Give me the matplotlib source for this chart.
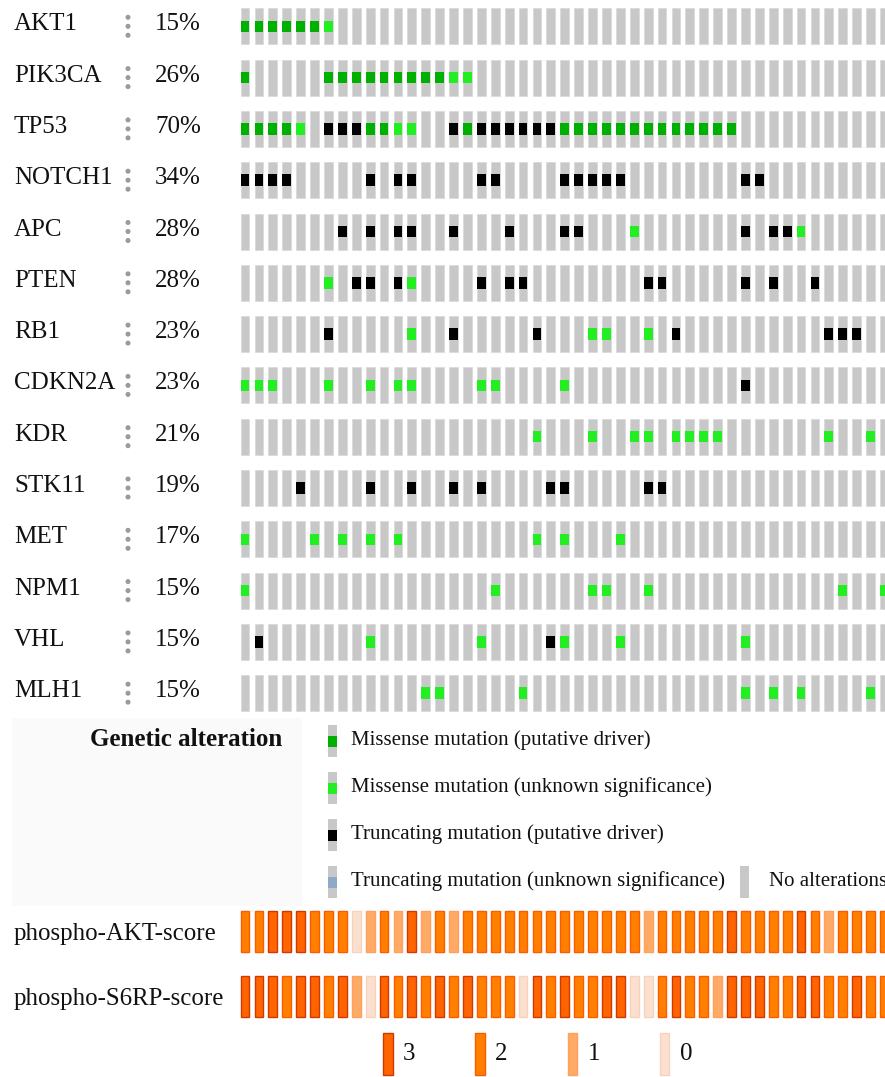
import matplotlib
matplotlib.use('Agg')
import matplotlib.pyplot as plt
from matplotlib.patches import Rectangle, Ellipse

plt.rcParams['font.family'] = ['Liberation Serif', 'DejaVu Serif']

# ---------------- data ----------------
genes = ['AKT1', 'PIK3CA', 'TP53', 'NOTCH1', 'APC', 'PTEN', 'RB1', 'CDKN2A',
         'KDR', 'STK11', 'MET', 'NPM1', 'VHL', 'MLH1']
pct_labels = ['15%', '26%', '70%', '34%', '28%', '28%', '23%', '23%',
              '21%', '19%', '17%', '15%', '15%', '15%']
n_samples = 47

missense_driver = {
    'AKT1': [0, 1, 2, 3, 4, 5],
    'PIK3CA': [0, 6, 7, 8, 9, 10, 11, 12, 13, 14],
    'TP53': [0, 1, 2, 3, 9, 10, 16, 23, 24, 25, 26, 27, 28, 29, 30, 31, 32, 33, 34, 35],
}
missense_unknown = {
    'AKT1': [6],
    'PIK3CA': [15, 16],
    'TP53': [4, 11, 12],
    'APC': [28, 40],
    'PTEN': [6, 12],
    'RB1': [12, 25, 26, 29],
    'CDKN2A': [0, 1, 2, 6, 9, 11, 12, 17, 18, 23],
    'KDR': [21, 25, 28, 29, 31, 32, 33, 34, 42, 45],
    'MET': [0, 5, 7, 9, 11, 21, 23, 27],
    'NPM1': [0, 18, 25, 26, 29, 43, 46],
    'VHL': [9, 17, 23, 27, 36],
    'MLH1': [13, 14, 20, 36, 38, 40, 45],
}
truncating_driver = {
    'TP53': [6, 7, 8, 15, 17, 18, 19, 20, 21, 22],
    'NOTCH1': [0, 1, 2, 3, 9, 11, 12, 17, 18, 23, 24, 25, 26, 27, 36, 37],
    'APC': [7, 9, 11, 12, 15, 19, 23, 24, 36, 38, 39],
    'PTEN': [8, 9, 11, 17, 19, 20, 29, 30, 36, 38, 41],
    'RB1': [6, 15, 21, 31, 42, 43, 44],
    'CDKN2A': [36],
    'STK11': [4, 9, 12, 15, 17, 22, 23, 29, 30],
    'VHL': [1, 22],
}

score_rows = ['phospho-AKT-score', 'phospho-S6RP-score']
akt_score = [2, 2, 3, 3, 3, 2, 2, 2, 0, 1, 2, 1, 3, 1, 2, 1, 2, 2, 2, 2, 2, 2, 2,
             2, 2, 2, 2, 2, 2, 1, 2, 2, 2, 2, 2, 3, 2, 2, 2, 2, 3, 2, 1, 2, 2, 2, 2]
s6rp_score = [3, 3, 3, 2, 3, 3, 2, 3, 1, 0, 3, 2, 3, 2, 3, 2, 3, 2, 2, 2, 0, 3, 2,
              3, 2, 2, 3, 3, 0, 0, 2, 3, 2, 2, 1, 3, 3, 3, 2, 2, 3, 3, 2, 2, 3, 2, 2]
score_levels = [3, 2, 1, 0]

legend_labels = ['Missense mutation (putative driver)',
                 'Missense mutation (unknown significance)',
                 'Truncating mutation (putative driver)',
                 'Truncating mutation (unknown significance)']

# ---------------- style ----------------
GRAY = '#c8c8c8'
C_MIS_DRV = '#00b000'
C_MIS_UNK = '#22ee22'
C_TRUNC_DRV = '#000000'
C_TRUNC_UNK = '#8fa9c9'
SCORE_FILL = {3: '#ff6400', 2: '#ff8000', 1: '#ffab66', 0: '#fce0cf'}
SCORE_EDGE = {3: '#d03a00', 2: '#ff5a00', 1: '#ffa060', 0: '#f8d2bc'}

W, H = 885, 1077
fig = plt.figure(figsize=(W / 100, H / 100), dpi=100)


def px_axes(left, top, right, bottom):
    return fig.add_axes([left / W, 1 - bottom / H, (right - left) / W, (bottom - top) / H])


# overlay axes in pixel coordinates for labels / legends
lax = px_axes(0, 0, W, H)
lax.set_xlim(0, W)
lax.set_ylim(H, 0)
lax.axis('off')

col_x0, col_pitch = 245.05, 13.9
row_y0, row_pitch = 26.3, 51.3
bar_w = 8.8 / col_pitch

# ---------------- oncoprint ----------------
ax = px_axes(231, 0, W, 720)
ax.set_xlim((231 - col_x0) / col_pitch, (W - col_x0) / col_pitch)
ax.set_ylim((720 - row_y0) / row_pitch, (0 - row_y0) / row_pitch)
ax.axis('off')

cols = list(range(n_samples))
bh = 36 / row_pitch
mh = 11.5 / row_pitch
for r, g in enumerate(genes):
    ax.bar(cols, bh, bottom=r - bh / 2, width=bar_w, color=GRAY, edgecolor='#d8d8d8', linewidth=0.5)
    for d, c in ((missense_driver, C_MIS_DRV), (missense_unknown, C_MIS_UNK),
                 (truncating_driver, C_TRUNC_DRV)):
        xs = d.get(g, [])
        if xs:
            ax.bar(xs, mh, bottom=r - mh / 2, width=bar_w, color=c, linewidth=0)
    yc = row_y0 + row_pitch * r
    lax.text(14, yc - 2, g, fontsize=18, va='center', ha='left', color='#111111')
    lax.text(155, yc - 2, pct_labels[r], fontsize=18, va='center', ha='left', color='#111111')
    for dy in (-9, 0, 9):
        lax.add_patch(Ellipse((128, yc + dy), 5, 5, color='#9a9a9a', lw=0))

# ---------------- legend (genetic alteration) ----------------
lax.add_patch(Rectangle((12, 718), 290, 188, color='#fafafa', lw=0, zorder=0))
lax.text(186, 740, 'Genetic alteration', fontsize=18, fontweight='bold',
         ha='center', va='center', color='#111111')
leg_colors = [C_MIS_DRV, C_MIS_UNK, C_TRUNC_DRV, C_TRUNC_UNK]
leg_y = [741, 788, 835, 882]
for lab, c, y in zip(legend_labels, leg_colors, leg_y):
    lax.add_patch(Rectangle((328, y - 16), 9, 32, color=GRAY, lw=0))
    lax.add_patch(Rectangle((328, y - 5.5), 9, 11, color=c, lw=0))
    lax.text(351, y - 1, lab, fontsize=15, ha='left', va='center', color='#111111')
lax.add_patch(Rectangle((740, 866), 9, 32, color=GRAY, lw=0))
lax.text(769, 881, 'No alterations', fontsize=15, ha='left', va='center', color='#111111')

# ---------------- phospho score tracks ----------------
sax = px_axes(231, 895, W, 1025)
s_y0, s_pitch = 931, 65
sax.set_xlim((231 - col_x0) / col_pitch, (W - col_x0) / col_pitch)
sax.set_ylim((1025 - s_y0) / s_pitch, (895 - s_y0) / s_pitch)
sax.axis('off')
sbh = 41 / s_pitch
for r, vals in enumerate([akt_score, s6rp_score]):
    sax.bar(cols, sbh, bottom=r - sbh / 2, width=bar_w,
            color=[SCORE_FILL[v] for v in vals],
            edgecolor=[SCORE_EDGE[v] for v in vals], linewidth=1.0)
    lax.text(14, s_y0 + s_pitch * r + 3, score_rows[r], fontsize=17.9,
             ha='left', va='center', color='#111111')

# score legend
for i, lvl in enumerate(score_levels):
    x = 383 + 92.3 * i
    lax.add_patch(Rectangle((x, 1033), 9.5, 42, facecolor=SCORE_FILL[lvl],
                            edgecolor=SCORE_EDGE[lvl], lw=1.0))
    lax.text(x + 20, 1054, str(lvl), fontsize=18, ha='left', va='center', color='#111111')

fig.savefig('out.png', dpi=100)
